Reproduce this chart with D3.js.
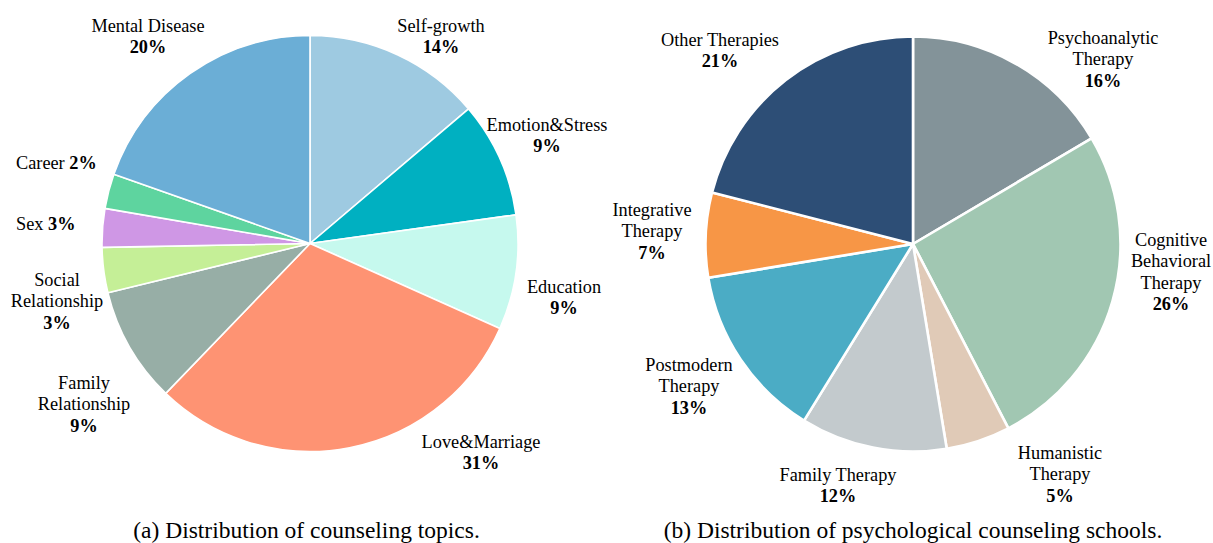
<!DOCTYPE html>
<html>
<head>
<meta charset="utf-8">
<script src="https://cdn.jsdelivr.net/npm/d3@7"></script>
<style>
  html, body { margin: 0; padding: 0; background: #fff; }
  svg { display: block; }
  text { font-family: "Liberation Serif", "Times New Roman", serif; fill: #000; }
</style>
</head>
<body>
<svg id="chart" width="1213" height="543"></svg>
<script>
// ---------- Data ----------
const topicNames = ["Self-growth", "Emotion&Stress", "Education", "Love&Marriage", "Family\nRelationship", "Social\nRelationship", "Sex", "Career", "Mental Disease"];
const topicValues = [13.8, 9.0, 8.9, 30.5, 9.0, 3.5, 3.0, 2.7, 19.6];
const topicPctLabels = ["14%", "9%", "9%", "31%", "9%", "3%", "3%", "2%", "20%"];
const topicColors = ["#9ECAE1", "#00B0C1", "#C6F9EE", "#FE9373", "#97AEA6", "#C5EF97", "#CF97E5", "#5ED49F", "#6BAED6"];

const schoolNames = ["Psychoanalytic\nTherapy", "Cognitive\nBehavioral\nTherapy", "Humanistic\nTherapy", "Family Therapy", "Postmodern\nTherapy", "Integrative\nTherapy", "Other Therapies"];
const schoolValues = [16.5, 25.9, 5.0, 11.4, 13.6, 6.6, 21.0];
const schoolPctLabels = ["16%", "26%", "5%", "12%", "13%", "7%", "21%"];
const schoolColors = ["#839399", "#A1C7B2", "#E0CAB7", "#C3CACD", "#4BACC5", "#F79646", "#2D4E76"];

const captions = ["(a) Distribution of counseling topics.", "(b) Distribution of psychological counseling schools."];

// ---------- Layout (label anchors relative to pie centre: dx, first baseline y, inline?) ----------
const topicLabelLayout = [
  {dx: 131, y: 32}, {dx: 237, y: 131}, {dx: 254, y: 293}, {dx: 171, y: 448},
  {dx: -226, y: 389}, {dx: -253, y: 286}, {dx: -294, y: 230, inline: true},
  {dx: -294, y: 169, inline: true}, {dx: -162, y: 32}
];
const schoolLabelLayout = [
  {dx: 190, y: 44}, {dx: 258, y: 246}, {dx: 147, y: 459}, {dx: -75, y: 481},
  {dx: -224, y: 371}, {dx: -261, y: 216}, {dx: -193, y: 46}
];

const svg = d3.select("#chart");
const fontSize = 18.3, lineH = 21.3;

function drawPie(cx, cy, r, names, values, pcts, colors, layout, strokeW, caption, capX) {
  const g = svg.append("g").attr("transform", `translate(${cx},${cy})`);
  const pie = d3.pie().sort(null).value(d => d);
  const arc = d3.arc().innerRadius(0).outerRadius(r);
  g.selectAll("path").data(pie(values)).join("path")
    .attr("d", arc)
    .attr("fill", (d, i) => colors[i])
    .attr("stroke", "#fff")
    .attr("stroke-width", strokeW)
    .attr("stroke-linejoin", "round");

  names.forEach((name, i) => {
    const L = layout[i];
    const x = cx + L.dx;
    if (L.inline) {
      const t = svg.append("text").attr("x", x).attr("y", L.y)
        .attr("font-size", fontSize).attr("text-anchor", "start");
      t.append("tspan").text(name + " ");
      t.append("tspan").attr("font-weight", "bold").text(pcts[i]);
    } else {
      const lines = name.split("\n");
      const t = svg.append("text").attr("font-size", fontSize).attr("text-anchor", "middle");
      lines.forEach((ln, k) => {
        t.append("tspan").attr("x", x).attr("y", L.y + k * lineH).text(ln);
      });
      t.append("tspan").attr("x", x).attr("y", L.y + lines.length * lineH)
        .attr("font-weight", "bold").text(pcts[i]);
    }
  });

  svg.append("text").attr("x", capX).attr("y", 538)
    .attr("text-anchor", "middle").attr("font-size", 23.5).text(caption);
}

drawPie(310, 243.5, 208, topicNames, topicValues, topicPctLabels, topicColors, topicLabelLayout, 1.6, captions[0], 306.5);
drawPie(913, 244, 207.5, schoolNames, schoolValues, schoolPctLabels, schoolColors, schoolLabelLayout, 2.6, captions[1], 913);
</script>
</body>
</html>
